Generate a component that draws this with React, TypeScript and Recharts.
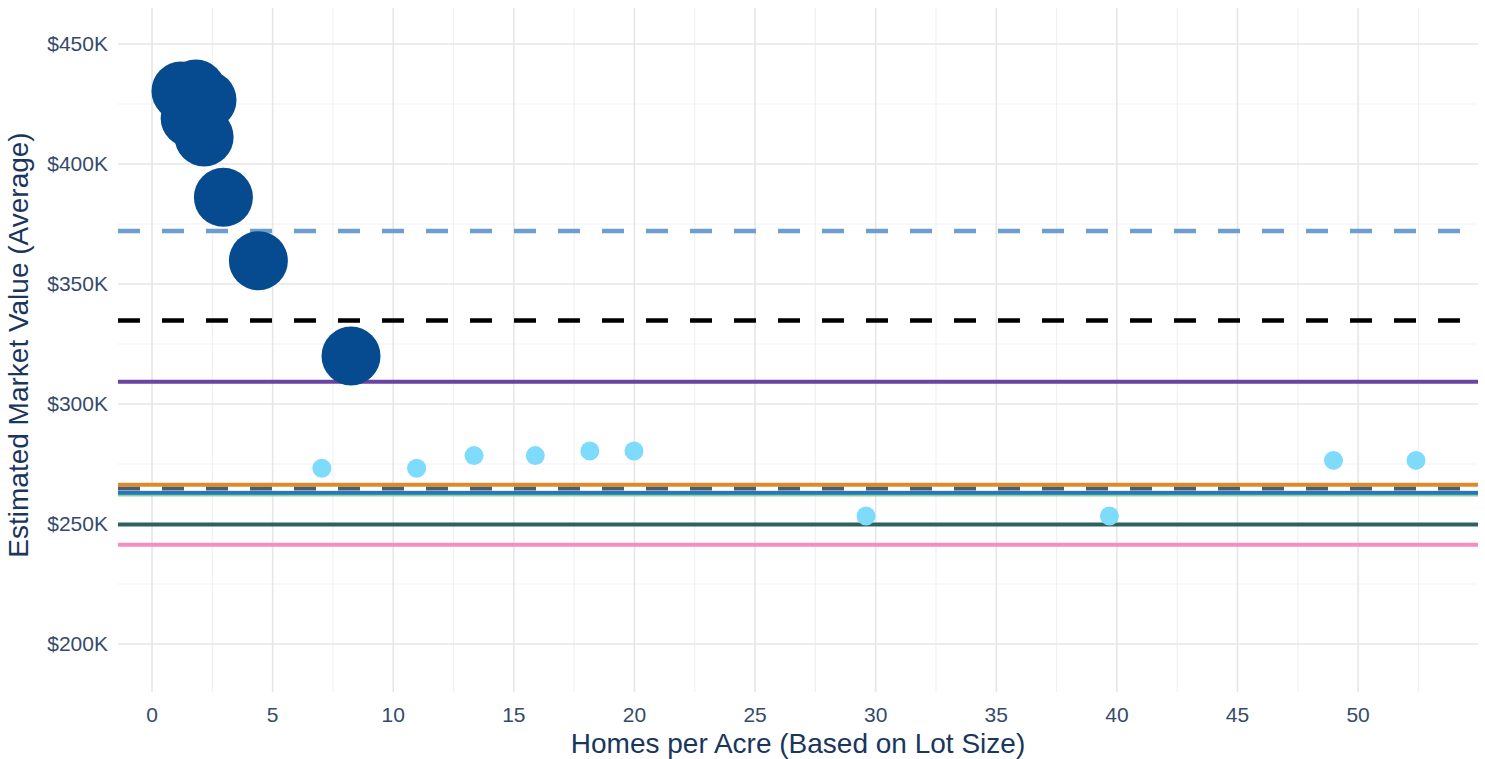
import {
  CartesianGrid,
  ReferenceLine,
  Scatter,
  ScatterChart,
  XAxis,
  YAxis,
} from "recharts";

// large circles (dark blue)
const largeX = [1.2, 1.82, 2.28, 1.58, 2.16, 2.96, 4.41, 8.25];
const largeY = [430400, 431250, 426700, 419200, 411250, 386100, 359700, 320000];

// small circles (light blue)
const smallX = [7.04, 10.97, 13.35, 15.89, 18.15, 19.98, 29.6, 39.69, 48.98, 52.4];
const smallY = [273200, 273200, 278500, 278500, 280400, 280400, 253300, 253300, 276500, 276500];

// horizontal reference levels
const refNames = ["lightblue", "black", "purple", "green", "blue", "white", "slate", "orange", "teal", "pink"];
const refValues = [372100, 334800, 309300, 262300, 263000, 264750, 264750, 266400, 249800, 241400];

const xTicks = [0, 5, 10, 15, 20, 25, 30, 35, 40, 45, 50];
const xMinor = [2.5, 7.5, 12.5, 17.5, 22.5, 27.5, 32.5, 37.5, 42.5, 47.5, 52.5];
const yTicks = [200000, 250000, 300000, 350000, 400000, 450000];
const yMinor = [225000, 275000, 325000, 375000, 425000];

const lineStyle: Record<string, { stroke: string; width: number; dash?: string }> = {
  lightblue: { stroke: "#6E9ECF", width: 4.5, dash: "22 22" },
  black: { stroke: "#000000", width: 4.5, dash: "22 22" },
  purple: { stroke: "#6B43A3", width: 4 },
  green: { stroke: "#90D090", width: 4 },
  blue: { stroke: "#1F78C1", width: 4 },
  white: { stroke: "#FFFFFF", width: 4 },
  slate: { stroke: "#4B5D6B", width: 4, dash: "22 22" },
  orange: { stroke: "#DD8A2E", width: 4 },
  teal: { stroke: "#2E6260", width: 4 },
  pink: { stroke: "#F58DC0", width: 4 },
};

const largeData = largeX.map((x, i) => ({ x, y: largeY[i] }));
const smallData = smallX.map((x, i) => ({ x, y: smallY[i] }));

const TICK = { fill: "#354a6b", fontSize: 21 };
const TITLE_COLOR = "#1a365d";

const fmtMoney = (v: number) => `$${v / 1000}K`;

const YTitle = (props: any) => {
  const { x, y, height } = props.viewBox;
  const cx = x + 18;
  const cy = y + height / 2 - 5;
  return (
    <text
      x={cx}
      y={cy}
      transform={`rotate(-90, ${cx}, ${cy})`}
      textAnchor="middle"
      dominantBaseline="central"
      fill={TITLE_COLOR}
      fontSize={28}
    >
      Estimated Market Value (Average)
    </text>
  );
};

export default function App() {
  return (
    <div
      style={{
        position: "absolute",
        left: 0,
        top: 0,
        width: 1485,
        height: 759,
        background: "#fff",
        fontFamily: "'Liberation Sans', Arial, sans-serif",
      }}
    >
      <ScatterChart width={1485} height={759} margin={{ top: 8, right: 7, bottom: 0, left: 0 }}>
        <CartesianGrid horizontalValues={yMinor} verticalValues={xMinor} stroke="#F1F1F1" strokeWidth={1.2} />
        <CartesianGrid horizontalValues={yTicks} verticalValues={xTicks} stroke="#E6E6E6" strokeWidth={1.6} />
        <XAxis
          type="number"
          dataKey="x"
          domain={[-1.41, 54.97]}
          ticks={xTicks}
          interval={0}
          allowDataOverflow
          axisLine={false}
          tickLine={false}
          tick={TICK}
          tickMargin={9}
          height={67}
          label={{
            value: "Homes per Acre (Based on Lot Size)",
            position: "insideBottom",
            offset: 6,
            fill: TITLE_COLOR,
            fontSize: 28,
          }}
        />
        <YAxis
          type="number"
          dataKey="y"
          domain={[180000, 465000]}
          ticks={yTicks}
          interval={0}
          allowDataOverflow
          axisLine={false}
          tickLine={false}
          tick={TICK}
          tickFormatter={fmtMoney}
          width={118}
          tickMargin={4}
          label={<YTitle />}
        />
        <Scatter
          data={smallData}
          isAnimationActive={false}
          shape={(p: any) => <circle cx={p.cx} cy={p.cy} r={9.5} fill="#7FDBFB" />}
        />
        <Scatter
          data={largeData}
          isAnimationActive={false}
          shape={(p: any) => <circle cx={p.cx} cy={p.cy} r={29.5} fill="#064B8F" />}
        />
        {refNames.map((name, i) => {
          const s = lineStyle[name];
          return (
            <ReferenceLine
              key={name}
              y={refValues[i]}
              stroke={s.stroke}
              strokeWidth={s.width}
              strokeDasharray={s.dash}
            />
          );
        })}
      </ScatterChart>
    </div>
  );
}
